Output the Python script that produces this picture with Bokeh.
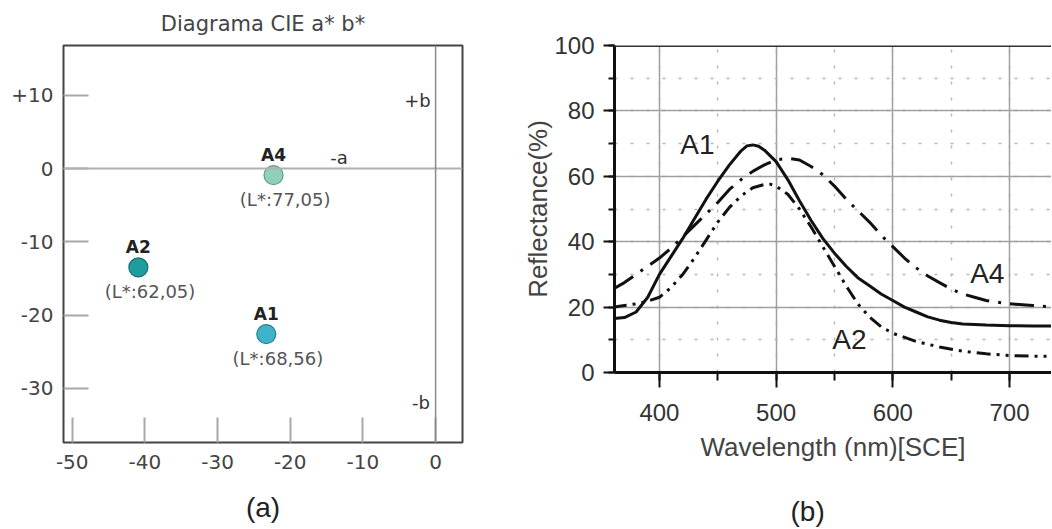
from bokeh.plotting import figure
from bokeh.layouts import row
from bokeh.models import Range1d, FixedTicker, SingleIntervalTicker, Label, Span, ColumnDataSource, Title
from bokeh.embed import file_html
from bokeh.resources import INLINE

# ---------- data: panel (a) CIE a* b* ----------
samples = ["A1", "A2", "A4"]
a_star = [-23.3, -40.9, -22.3]
b_star = [-22.6, -13.5, -0.9]
l_star = ["68,56", "62,05", "77,05"]
point_colors = ["#3db4c9", "#1f9d9e", "#8fd0ba"]
point_lines = ["#2a7f8c", "#17706f", "#5a9e8a"]
a_ticks = [-50, -40, -30, -20, -10, 0]
b_ticks = [-30, -20, -10, 0, 10]
b_tick_labels = ["-30", "-20", "-10", "0", "+10"]

# ---------- data: panel (b) reflectance ----------
wl_a1 = [360, 370, 380, 390, 400, 410, 420, 430, 440, 450, 460, 470, 475, 480, 485, 490, 500, 510, 520,
         530, 540, 550, 560, 570, 580, 590, 600, 610, 620, 630, 640, 650, 660, 680, 700, 720, 740]
refl_a1 = [16.5, 16.8, 18.5, 23, 30, 35.5, 41, 47, 53, 58.5, 63.5, 67.8, 69.3, 69.6, 69.2, 68, 64.5, 59, 52.5,
           46.5, 41, 36.5, 32.5, 29, 26.5, 24, 22, 20, 18.5, 17, 16, 15.3, 14.8, 14.5, 14.3, 14.2, 14.2]
wl_a2 = [360, 370, 380, 390, 400, 410, 420, 430, 440, 450, 460, 470, 480, 490, 495, 500, 510, 520,
         530, 540, 550, 560, 570, 580, 590, 600, 620, 640, 660, 680, 700, 720, 740]
refl_a2 = [20, 20.5, 21, 21.8, 23, 26, 30, 35, 40.5, 46, 50.5, 54, 56.5, 57.5, 57.6, 57, 54.5, 50,
           44.5, 38.5, 32.5, 26.5, 21, 17, 14, 12, 9.5, 7.8, 6.5, 5.7, 5.2, 5.0, 5.0]
wl_a4 = [360, 370, 380, 390, 400, 410, 420, 430, 440, 450, 460, 470, 480, 490, 500, 510, 520, 530,
         540, 550, 560, 570, 580, 590, 600, 610, 620, 630, 640, 650, 660, 670, 680, 690, 700, 720, 740]
refl_a4 = [25.5, 27.5, 30, 32.5, 35, 38, 41.5, 45, 48.5, 52, 56, 59, 61.5, 63.5, 65, 65.5, 65, 63,
           60.5, 57, 53, 49.5, 46, 42, 38.5, 35, 32, 29.5, 27.5, 25.5, 24, 23, 22, 21.5, 21, 20.5, 20]

# ================= panel (a) =================
pa = figure(frame_width=399, frame_height=397, min_border_left=63, min_border_right=58,
            min_border_top=45, min_border_bottom=83, output_backend="svg", toolbar_location=None,
            x_range=Range1d(-51.2, 3.7), y_range=Range1d(-37.4, 16.8))
pa.outline_line_color = "#444444"
pa.outline_line_width = 2
pa.grid.visible = False
for ax in (pa.xaxis[0], pa.yaxis[0]):
    ax.axis_line_color = None
    ax.major_tick_in = 25
    ax.major_tick_out = 0
    ax.minor_tick_line_color = None
    ax.major_tick_line_color = "#a8a8a8"
    ax.major_tick_line_width = 2
    ax.major_label_text_font = "DejaVu Sans"
    ax.major_label_text_font_size = "20px"
    ax.major_label_text_color = "#444444"
pa.xaxis.ticker = FixedTicker(ticks=a_ticks)
pa.xaxis.major_label_overrides = {t: str(t) for t in a_ticks}
pa.xaxis.major_label_standoff = 12
pa.yaxis.ticker = FixedTicker(ticks=b_ticks)
pa.yaxis.major_label_overrides = dict(zip(b_ticks, b_tick_labels))
pa.yaxis.major_label_standoff = 10

pa.add_layout(Span(location=0, dimension="width", line_color="#b0b0b0", line_width=2))
pa.add_layout(Span(location=0, dimension="height", line_color="#8a8a8a", line_width=1.5))

src = ColumnDataSource(dict(a=a_star, b=b_star, c=point_colors, lc=point_lines))
pa.scatter("a", "b", source=src, size=19, fill_color="c", line_color="lc", line_width=1.2)

for s, a, b, l in zip(samples, a_star, b_star, l_star):
    pa.add_layout(Label(x=a, y=b + 1.4, text=s, text_align="center", text_baseline="bottom",
                        text_font="DejaVu Sans", text_font_style="bold", text_font_size="17px",
                        text_color="#222222"))
    pa.add_layout(Label(x=a + 1.6, y=b - 1.9, text="(L*:" + l + ")", text_align="center",
                        text_baseline="top", text_font="DejaVu Sans", text_font_size="18px",
                        text_color="#555555"))
for t, x, y in [("+b", -2.5, 9.3), ("-a", -13.3, 1.5), ("-b", -2.0, -32.0)]:
    pa.add_layout(Label(x=x, y=y, text=t, text_align="center", text_baseline="middle",
                        text_font="DejaVu Sans", text_font_size="18px", text_color="#333333"))
pa.add_layout(Title(text="Diagrama CIE a* b*", align="center", text_font="DejaVu Sans",
                    text_font_size="21px", text_font_style="normal", text_color="#444444",
                    standoff=19), "above")
pa.add_layout(Title(text="(a)", align="center", text_font="Liberation Sans",
                    text_font_size="28px", text_font_style="normal", text_color="#222222",
                    standoff=36), "below")

# ================= panel (b) =================
pb = figure(frame_width=437, frame_height=327, min_border_left=93, min_border_right=0,
            min_border_top=45, min_border_bottom=153, output_backend="svg", toolbar_location=None,
            x_range=Range1d(361.5, 736.0), y_range=Range1d(0, 100))
pb.outline_line_color = None
xt = SingleIntervalTicker(interval=100, num_minor_ticks=2)
yt = SingleIntervalTicker(interval=20, num_minor_ticks=2)
pb.xaxis.ticker = xt
pb.yaxis.ticker = yt
pb.xgrid.ticker = xt
pb.ygrid.ticker = yt
for g in (pb.xgrid[0], pb.ygrid[0]):
    g.grid_line_color = "#a0a0a0"
    g.grid_line_width = 1.5
    g.minor_grid_line_color = "#b8b8b8"
    g.minor_grid_line_width = 1.5
    g.minor_grid_line_dash = "3 13"
for ax in (pb.xaxis[0], pb.yaxis[0]):
    ax.axis_line_color = "#111111"
    ax.axis_line_width = 3
    ax.major_tick_line_color = "#111111"
    ax.major_tick_line_width = 2
    ax.minor_tick_line_color = "#111111"
    ax.minor_tick_line_width = 2
    ax.major_tick_in = 0
    ax.minor_tick_in = 0
    ax.major_label_text_font = "Liberation Sans"
    ax.major_label_text_font_size = "24px"
    ax.major_label_text_color = "#333333"
    ax.axis_label_text_font = "Liberation Sans"
    ax.axis_label_text_font_size = "26px"
    ax.axis_label_text_font_style = "normal"
    ax.axis_label_text_color = "#444444"
pb.xaxis.major_tick_out = 15
pb.xaxis.minor_tick_out = 8
pb.xaxis.major_label_standoff = 16
pb.xaxis.axis_label = "Wavelength (nm)[SCE]"
pb.xaxis.axis_label_standoff = 8
pb.yaxis.major_tick_out = 11
pb.yaxis.minor_tick_out = 6
pb.yaxis.major_label_standoff = 9
pb.yaxis.axis_label = "Reflectance(%)"
pb.yaxis.axis_label_standoff = -2
pb.add_layout(Span(location=100, dimension="width", line_color="#333333", line_width=3))

pb.line(wl_a1, refl_a1, line_color="#111111", line_width=3)
pb.line(wl_a2, refl_a2, line_color="#111111", line_width=3, line_dash="14 6 3 6 3 6")
pb.line(wl_a4, refl_a4, line_color="#111111", line_width=3, line_dash="24 9 3 9")

for t, x, y in [("A1", 432.6, 69.7), ("A4", 681, 30.3), ("A2", 562.8, 10.1)]:
    pb.add_layout(Label(x=x, y=y, text=t, text_align="center", text_baseline="middle",
                        text_font="Liberation Sans", text_font_size="28px", text_color="#222222"))
pb.add_layout(Title(text="(b)", align="left", offset=176, text_font="Liberation Sans",
                    text_font_size="28px", text_font_style="normal", text_color="#222222",
                    standoff=58), "below")

layout = row(pa, pb, spacing=0)
open("out.html", "w").write(file_html(layout, INLINE))
